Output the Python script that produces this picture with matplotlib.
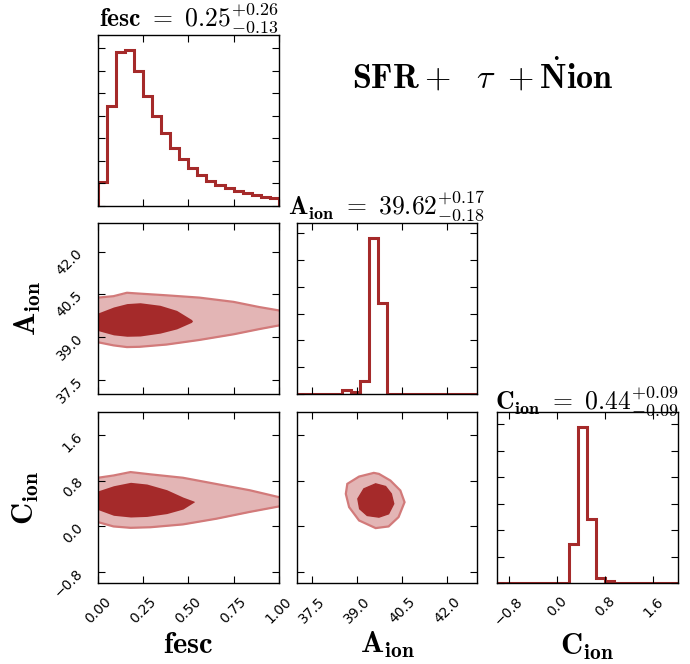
import numpy as np
import matplotlib
matplotlib.use("Agg")
import matplotlib.pyplot as plt
from matplotlib.ticker import MultipleLocator

plt.rcParams['mathtext.fontset'] = 'cm'
plt.rcParams['font.family'] = 'DejaVu Sans'

dark = '#a52a2a'
light = '#e3b5b5'
edge = '#d27a7a'

# 1D marginal histograms (bin edges + counts)
fesc_edges = np.linspace(0.0, 1.0, 21)
fesc_counts = [104, 444, 686, 693, 600, 489, 400, 326, 259, 207,
               167, 138, 111, 93, 79, 67, 56, 49, 41, 34]

aion_edges = np.linspace(37.0, 43.0, 21)
aion_counts = [0, 0, 0, 0, 0, 16, 9, 48, 581, 340,
               0, 0, 0, 0, 0, 0, 0, 0, 0, 0]

cion_edges = np.linspace(-1.0, 2.0, 21)
cion_counts = [0, 0, 0, 0, 0, 0, 0, 0, 146, 589,
               241, 19, 6, 0, 0, 0, 0, 0, 0, 0]

# fesc vs A_ion contours (x, upper, lower)
fa_out_x = [0.0, 0.086, 0.16, 0.23, 0.38, 0.56, 0.75, 0.89, 1.0]
fa_out_hi = [40.39, 40.44, 40.56, 40.53, 40.47, 40.39, 40.24, 40.06, 39.94]
fa_out_lo = [38.82, 38.71, 38.65, 38.66, 38.74, 38.90, 39.10, 39.28, 39.41]
fa_in_x = [0.0, 0.086, 0.16, 0.233, 0.343, 0.435, 0.517, 0.523]
fa_in_hi = [39.85, 40.06, 40.18, 40.21, 40.12, 39.94, 39.62, 39.57]
fa_in_lo = [39.23, 39.08, 39.03, 39.04, 39.14, 39.29, 39.52, 39.57]

# fesc vs C_ion contours
fc_out_x = [0.0, 0.086, 0.18, 0.29, 0.47, 0.655, 0.84, 1.0]
fc_out_hi = [0.85, 0.89, 0.95, 0.91, 0.85, 0.74, 0.63, 0.51]
fc_out_lo = [0.07, -0.006, -0.03, -0.02, 0.03, 0.13, 0.25, 0.345]
fc_in_x = [0.0, 0.086, 0.18, 0.27, 0.38, 0.47, 0.53, 0.534]
fc_in_hi = [0.62, 0.71, 0.77, 0.74, 0.64, 0.51, 0.44, 0.43]
fc_in_lo = [0.29, 0.19, 0.16, 0.17, 0.22, 0.30, 0.42, 0.43]

# A_ion vs C_ion contours (closed outlines)
ac_out_x = [39.56, 39.07, 38.68, 38.63, 38.74, 39.07, 39.62, 40.05, 40.38, 40.58, 40.44, 40.11, 39.73]
ac_out_y = [0.936, 0.871, 0.743, 0.567, 0.333, 0.099, -0.035, -0.006, 0.158, 0.421, 0.626, 0.801, 0.918]
ac_in_x = [39.62, 39.23, 39.03, 39.09, 39.34, 39.73, 40.05, 40.22, 40.14, 39.95]
ac_in_y = [0.743, 0.655, 0.480, 0.304, 0.187, 0.158, 0.216, 0.392, 0.567, 0.696]

fesc_lim = (0.0, 1.0)
aion_lim = (37.0, 43.0)
cion_lim = (-1.0, 2.0)
fesc_ticks = [0.0, 0.25, 0.5, 0.75, 1.0]
aion_ticks = [37.5, 39.0, 40.5, 42.0]
cion_ticks = [-0.8, 0.0, 0.8, 1.6]

fig = plt.figure(figsize=(6.9, 6.64), dpi=100)
lefts = [0.142, 0.430, 0.720]
bottoms = [0.690, 0.4066, 0.122]
w, h = 0.262, 0.257


def make_ax(r, c):
    ax = fig.add_axes([lefts[c], bottoms[r], w, h])
    ax.tick_params(direction='in', top=True, right=True, length=5, width=0.8,
                   labelsize=10, labelbottom=False, labelleft=False)
    for s in ax.spines.values():
        s.set_linewidth(1.0)
    return ax


def hist(ax, edges, counts):
    ax.stairs(counts, edges, color=dark, lw=2.2)
    ax.set_ylim(0, 1.095 * max(counts))
    ax.yaxis.set_major_locator(MultipleLocator(100))


# top-left: fesc hist
ax00 = make_ax(0, 0)
hist(ax00, fesc_edges, fesc_counts)
ax00.set_xlim(fesc_lim)
ax00.set_xticks(fesc_ticks)
ax00.set_title(r"$\mathbf{fesc}\ =\ 0.25^{+0.26}_{-0.13}$", fontsize=18.5, pad=2)

# A_ion hist
ax11 = make_ax(1, 1)
hist(ax11, aion_edges, aion_counts)
ax11.set_xlim(aion_lim)
ax11.set_xticks(aion_ticks)
ax11.set_title(r"$\mathbf{A_{ion}}\ =\ 39.62^{+0.17}_{-0.18}$", fontsize=18.5, pad=2)

# C_ion hist
ax22 = make_ax(2, 2)
hist(ax22, cion_edges, cion_counts)
ax22.set_xlim(cion_lim)
ax22.set_xticks(cion_ticks)
ax22.set_title(r"$\mathbf{C_{ion}}\ =\ 0.44^{+0.09}_{-0.09}$", fontsize=18.5, pad=2)

# fesc vs A_ion
ax10 = make_ax(1, 0)
ax10.fill_between(fa_out_x, fa_out_lo, fa_out_hi, color=light, lw=0)
ax10.plot(fa_out_x, fa_out_hi, color=edge, lw=1.6)
ax10.plot(fa_out_x, fa_out_lo, color=edge, lw=1.6)
ax10.fill_between(fa_in_x, fa_in_lo, fa_in_hi, color=dark, lw=0)
ax10.set_xlim(fesc_lim)
ax10.set_ylim(aion_lim)
ax10.set_xticks(fesc_ticks)
ax10.set_yticks(aion_ticks)

# fesc vs C_ion
ax20 = make_ax(2, 0)
ax20.fill_between(fc_out_x, fc_out_lo, fc_out_hi, color=light, lw=0)
ax20.plot(fc_out_x, fc_out_hi, color=edge, lw=1.6)
ax20.plot(fc_out_x, fc_out_lo, color=edge, lw=1.6)
ax20.fill_between(fc_in_x, fc_in_lo, fc_in_hi, color=dark, lw=0)
ax20.set_xlim(fesc_lim)
ax20.set_ylim(cion_lim)
ax20.set_xticks(fesc_ticks)
ax20.set_yticks(cion_ticks)

# A_ion vs C_ion
ax21 = make_ax(2, 1)
ax21.fill(ac_out_x, ac_out_y, facecolor=light, edgecolor=edge, lw=1.6)
ax21.fill(ac_in_x, ac_in_y, facecolor=dark, edgecolor=dark, lw=1.0)
ax21.set_xlim(aion_lim)
ax21.set_ylim(cion_lim)
ax21.set_xticks(aion_ticks)
ax21.set_yticks(cion_ticks)

# tick labels on outer edges, rotated like the original corner plot
for ax in (ax10, ax20):
    ax.tick_params(axis='y', labelleft=True, labelrotation=45, pad=9)
for ax in (ax20, ax21, ax22):
    ax.tick_params(axis='x', labelbottom=True, labelrotation=45, pad=8)

ax10.set_ylabel(r"$\mathbf{A_{ion}}$", fontsize=22, labelpad=8)
ax20.set_ylabel(r"$\mathbf{C_{ion}}$", fontsize=22, labelpad=8)
ax20.set_xlabel(r"$\mathbf{fesc}$", fontsize=22, labelpad=3)
ax21.set_xlabel(r"$\mathbf{A_{ion}}$", fontsize=22, labelpad=3)
ax22.set_xlabel(r"$\mathbf{C_{ion}}$", fontsize=22, labelpad=3)

fig.text(0.70, 0.885, r"$\mathbf{SFR}+\ \ \tau\ +\dot{\mathbf{N}}\mathbf{ion}$",
         fontsize=24.5, ha='center', va='center')

fig.savefig("out.png", dpi=100)
